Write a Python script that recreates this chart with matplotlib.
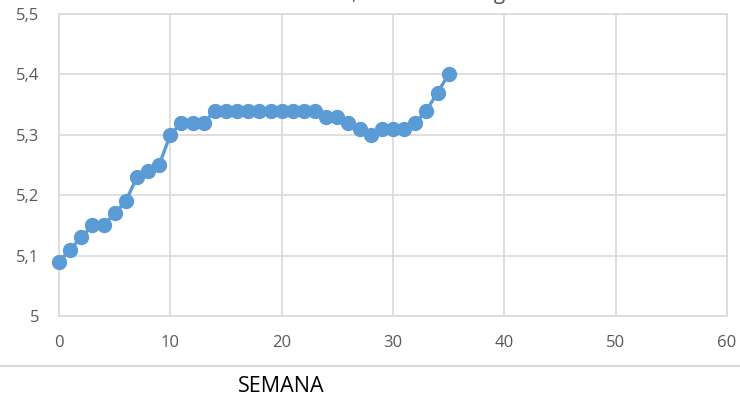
import matplotlib.pyplot as plt
from matplotlib.lines import Line2D
from matplotlib.ticker import FuncFormatter

# weekly readings
semana = list(range(0, 36))
valores = [5.09, 5.11, 5.13, 5.15, 5.15, 5.17, 5.19, 5.23, 5.24, 5.25,
           5.30, 5.32, 5.32, 5.32, 5.34, 5.34, 5.34, 5.34, 5.34, 5.34,
           5.34, 5.34, 5.34, 5.34, 5.33, 5.33, 5.32, 5.31, 5.30, 5.31,
           5.31, 5.31, 5.32, 5.34, 5.37, 5.40]

x_ticks = [0, 10, 20, 30, 40, 50, 60]
y_ticks = [5.0, 5.1, 5.2, 5.3, 5.4, 5.5]

plt.rcParams['font.family'] = ['Open Sans', 'DejaVu Sans']

fig = plt.figure(figsize=(7.4, 4.01), dpi=100)
ax = fig.add_axes([0.0797, 0.212, 0.9027, 0.753])

ax.plot(semana, valores, color='#5B9BD5', linewidth=2.4, marker='o',
        markersize=10, zorder=3, clip_on=False)

ax.set_xlim(0, 60)
ax.set_ylim(5.0, 5.5)
ax.set_xticks(x_ticks)
ax.set_yticks(y_ticks)

def coma(v, pos):
    s = f"{v:.1f}".replace('.', ',')
    return '5' if s == '5,0' else s

ax.yaxis.set_major_formatter(FuncFormatter(coma))
ax.grid(True, color='#d9d9d9', linewidth=1.2)
ax.set_axisbelow(True)
for sp in ax.spines.values():
    sp.set_color('#d9d9d9')
    sp.set_linewidth(1.2)
ax.tick_params(length=0, labelsize=12, colors='#595959')
ax.tick_params(axis='x', pad=14)
ax.tick_params(axis='y', pad=14)

# chart title, cut off by the top edge (only descenders visible)
fig.text(0.351, 1.003, 'Densidad, valor medio kg', ha='left', va='baseline',
         fontsize=15, color='#595959')

# separator line and axis title
fig.add_artist(Line2D([0, 1], [0.0873, 0.0873], transform=fig.transFigure,
                      color='#d9d9d9', linewidth=1.5))
fig.text(0.38, 0.035, 'SEMANA', ha='center', va='center', fontsize=15.5,
         color='black')

fig.savefig('out.png', dpi=100)
